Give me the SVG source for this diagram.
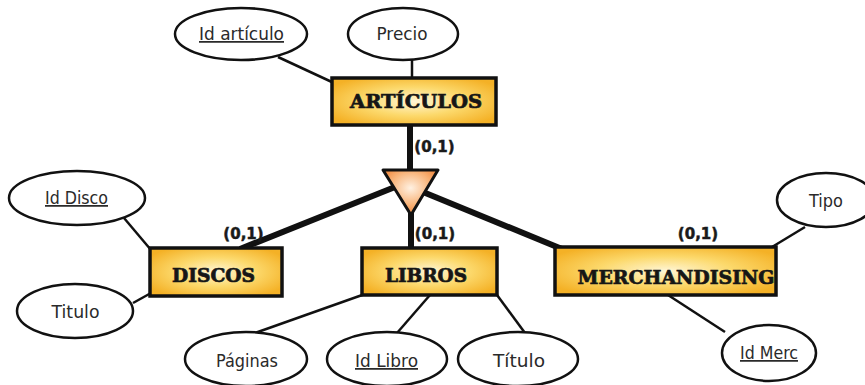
<svg xmlns="http://www.w3.org/2000/svg" width="865" height="385" viewBox="0 0 865 385">
<defs>
<radialGradient id="boxg" cx="0.5" cy="0.5" r="0.6">
<stop offset="0" stop-color="#fff6d6"/>
<stop offset="0.5" stop-color="#fcd96c"/>
<stop offset="1" stop-color="#f4b126"/>
</radialGradient>
<radialGradient id="trig" cx="0.5" cy="0.4" r="0.6">
<stop offset="0" stop-color="#fff1e2"/>
<stop offset="0.6" stop-color="#f8b47a"/>
<stop offset="1" stop-color="#f0863a"/>
</radialGradient>
</defs>
<style>
.ent{fill:url(#boxg);stroke:#111;stroke-width:3.5}
.et{font-family:"DejaVu Serif",serif;font-weight:bold;font-size:19px;fill:#161616;stroke:#161616;stroke-width:0.7;text-anchor:middle}
.att{fill:#fff;stroke:#111;stroke-width:2.5}
.at{font-family:"DejaVu Sans",sans-serif;font-size:17.5px;fill:#2a2a2a;text-anchor:middle}
.u{text-decoration:underline}
.thin{stroke:#111;stroke-width:2.5;fill:none}
.thick{stroke:#111;stroke-width:6;fill:none}
.card{font-family:"DejaVu Sans",sans-serif;font-weight:bold;font-size:15px;fill:#1a1a1a;stroke:#1a1a1a;stroke-width:0.5;text-anchor:middle}
</style>
<g id="connectors">
<line class="thin" x1="278" y1="57" x2="334" y2="83"/>
<line class="thin" x1="412" y1="60" x2="412" y2="78"/>
<line class="thin" x1="124" y1="218" x2="151" y2="250"/>
<line class="thin" x1="133" y1="303" x2="151" y2="293"/>
<line class="thin" x1="255" y1="333" x2="365" y2="294"/>
<line class="thin" x1="397" y1="333" x2="430" y2="295"/>
<line class="thin" x1="525" y1="333" x2="497" y2="295"/>
<line class="thin" x1="805" y1="227" x2="772" y2="247"/>
<line class="thin" x1="668" y1="295" x2="725" y2="332"/>
<line class="thick" x1="410" y1="124" x2="410" y2="174"/>
<line class="thick" x1="395" y1="187" x2="240" y2="249"/>
<line class="thick" x1="411" y1="205" x2="411" y2="249"/>
<line class="thick" x1="423" y1="192" x2="562" y2="249"/>
</g>
<g id="isa">
<polygon points="383,170 438,170 411,215" fill="url(#trig)" stroke="#111" stroke-width="3" stroke-linejoin="round"/>
</g>
<g id="articulos">
<rect class="ent" x="332" y="78" width="164" height="47"/>
<text class="et" x="416" y="108" textLength="132" lengthAdjust="spacingAndGlyphs">ARTÍCULOS</text>
</g>
<g id="discos">
<rect class="ent" x="150" y="248" width="132" height="48"/>
<text class="et" x="213.5" y="282" textLength="83" lengthAdjust="spacingAndGlyphs">DISCOS</text>
</g>
<g id="libros">
<rect class="ent" x="362" y="248" width="135" height="47"/>
<text class="et" x="426" y="282" textLength="82" lengthAdjust="spacingAndGlyphs">LIBROS</text>
</g>
<g id="merchandising">
<rect class="ent" x="555" y="247" width="221" height="48"/>
<text class="et" x="676" y="284" textLength="197" lengthAdjust="spacingAndGlyphs">MERCHANDISING</text>
</g>
<g id="card-articulos"><text class="card" x="434.5" y="152">(0,1)</text></g>
<g id="card-discos"><text class="card" x="243.5" y="239">(0,1)</text></g>
<g id="card-libros"><text class="card" x="435" y="239">(0,1)</text></g>
<g id="card-merch"><text class="card" x="698" y="239">(0,1)</text></g>
<g id="id-articulo">
<ellipse class="att" cx="241" cy="34" rx="66" ry="26"/>
<text class="at u" x="241.5" y="40" textLength="85" lengthAdjust="spacingAndGlyphs">Id artículo</text>
</g>
<g id="precio">
<ellipse class="att" cx="403" cy="34" rx="55" ry="26"/>
<text class="at" x="402" y="40" textLength="51" lengthAdjust="spacingAndGlyphs">Precio</text>
</g>
<g id="id-disco">
<ellipse class="att" cx="77" cy="198" rx="68" ry="27"/>
<text class="at u" x="76.5" y="204" textLength="63" lengthAdjust="spacingAndGlyphs">Id Disco</text>
</g>
<g id="titulo-disco">
<ellipse class="att" cx="75" cy="311" rx="58" ry="27"/>
<text class="at" x="75.5" y="318" textLength="48" lengthAdjust="spacingAndGlyphs">Titulo</text>
</g>
<g id="paginas">
<ellipse class="att" cx="246" cy="359" rx="61" ry="27"/>
<text class="at" x="247" y="367" textLength="62" lengthAdjust="spacingAndGlyphs">Páginas</text>
</g>
<g id="id-libro">
<ellipse class="att" cx="387" cy="359" rx="60" ry="27"/>
<text class="at u" x="386.5" y="367" textLength="63" lengthAdjust="spacingAndGlyphs">Id Libro</text>
</g>
<g id="titulo-libro">
<ellipse class="att" cx="518" cy="359" rx="60" ry="27"/>
<text class="at" x="519" y="367" textLength="52" lengthAdjust="spacingAndGlyphs">Título</text>
</g>
<g id="tipo">
<ellipse class="att" cx="826" cy="200" rx="49" ry="27"/>
<text class="at" x="826" y="207" textLength="34" lengthAdjust="spacingAndGlyphs">Tipo</text>
</g>
<g id="id-merc">
<ellipse class="att" cx="769" cy="353" rx="47" ry="28"/>
<text class="at u" x="769" y="359" textLength="58" lengthAdjust="spacingAndGlyphs">Id Merc</text>
</g>
</svg>
